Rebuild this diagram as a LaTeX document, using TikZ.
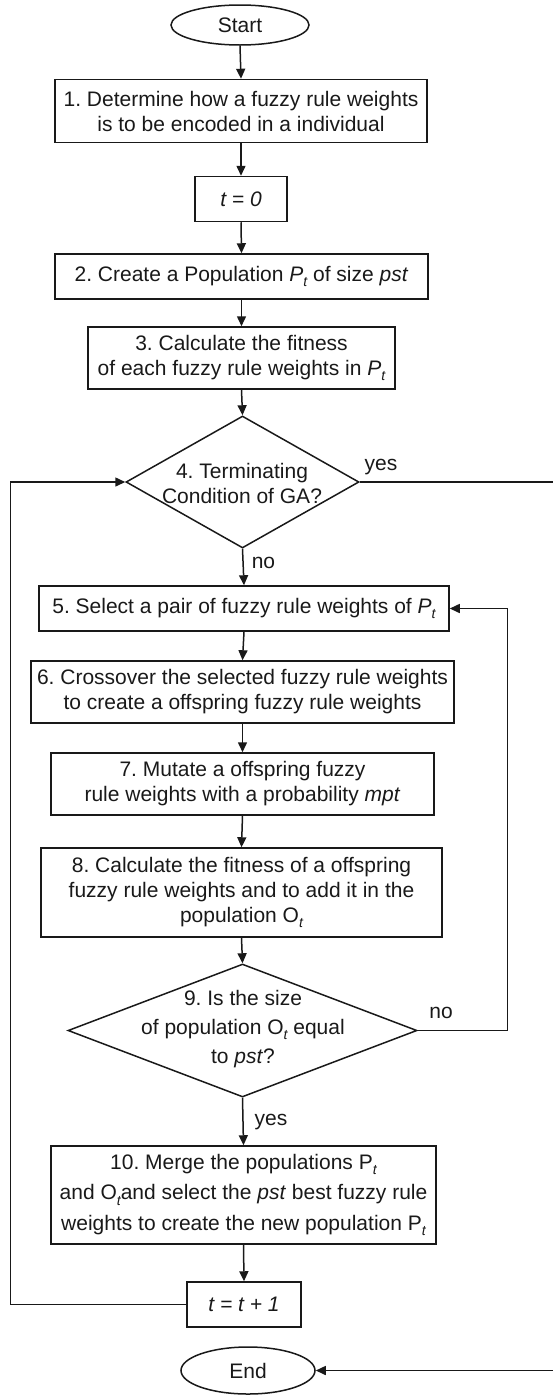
\documentclass[tikz,border=0pt]{standalone}
\usepackage{fontspec}
\setmainfont{Liberation Sans}
\usetikzlibrary{arrows.meta,shapes.geometric,calc}
\frenchspacing
\newcommand\subt{\raisebox{-5.5pt}{\fontsize{14}{14}\selectfont\itshape t}}
\begin{document}
\begin{tikzpicture}[x=1pt,y=1pt,
  every node/.style={font=\fontsize{21}{25}\selectfont\frenchspacing, text=black!90},
  base/.style={draw=black!90, line width=1.5pt, inner sep=0pt, align=center},
  procbox/.style={base, rectangle},
  termbox/.style={base, ellipse},
  decbox/.style={base, diamond},
  arr/.style={line width=1.5pt, draw=black!90, -{Triangle[length=10pt,width=9pt]}},
  lbl/.style={inner sep=0pt}
]
\useasboundingbox (0,0) rectangle (553,-1395);

\node[termbox, minimum width=138pt, minimum height=40pt] (start) at (240,-25) {Start};
\node[procbox, minimum width=372pt, minimum height=63pt] (b1) at (241,-111)
  {1. Determine how a fuzzy rule weights\\ is to be encoded in a individual};
\node[procbox, minimum width=92pt, minimum height=45pt] (t0) at (241,-199) {\textit{t = 0}};
\node[procbox, minimum width=373pt, minimum height=45pt] (b2) at (241.5,-276.5)
  {2. Create a Population \textit{P}\subt{} of size \textit{pst}};
\node[procbox, minimum width=307pt, minimum height=62pt] (b3) at (241.5,-358)
  {3. Calculate the fitness\\ of each fuzzy rule weights in \textit{P}\subt};
\node[decbox, minimum width=233pt, minimum height=132pt] (d4) at (242.5,-482) {};
\node[lbl, align=center] (d4t) at (242,-483) {4. Terminating\\ Condition of GA?};
\node[procbox, minimum width=410pt, minimum height=45pt] (b5) at (244,-608.5)
  {5. Select a pair of fuzzy rule weights of \textit{P}\subt};
\node[procbox, minimum width=423pt, minimum height=62pt] (b6) at (242.5,-692)
  {6. Crossover the selected fuzzy rule weights\\ to create a offspring fuzzy rule weights};
\node[procbox, minimum width=383pt, minimum height=62pt] (b7) at (242.5,-784)
  {7. Mutate a offspring fuzzy\\ rule weights with a probability \textit{mpt}};
\node[procbox, minimum width=401pt, minimum height=89pt] (b8) at (241.5,-892.5)
  {8. Calculate the fitness of a offspring\\ fuzzy rule weights and to add it in the\\ population O\subt};
\node[decbox, minimum width=349pt, minimum height=133pt] (d9) at (242.5,-1030.5) {};
\node[lbl, align=center, font=\fontsize{21}{29}\selectfont\frenchspacing] (d9t) at (243,-1029)
  {9. Is the size\\ of population O\subt{} equal\\ to \textit{pst}?};
\node[procbox, minimum width=385pt, minimum height=98pt, font=\fontsize{21}{30.5}\selectfont\frenchspacing] (b10) at (243.5,-1195)
  {10. Merge the populations P\subt\\ and O\subt and select the \textit{pst} best fuzzy rule\\ weights to create the new population P\subt};
\node[procbox, minimum width=114pt, minimum height=45pt] (t1) at (244,-1304.5) {\textit{t = t + 1}};
\node[termbox, minimum width=134pt, minimum height=47pt] (end) at (248,-1370.5) {End};

\coordinate (L) at (10.5,-1304.5);
\coordinate (R) at (557,-482);
\coordinate (R9) at (507.5,-1030.5);

\draw[arr] (start.south) -- (b1.north);
\draw[arr] (b1.south) -- (t0.north);
\draw[arr] (t0.south) -- (b2.north);
\draw[arr] (b2.south) -- (b3.north);
\draw[arr] (b3.south) -- (d4.north);
\draw[arr] (d4.south) -- (b5.north);
\draw[arr] (b5.south) -- (b6.north);
\draw[arr] (b6.south) -- (b7.north);
\draw[arr] (b7.south) -- (b8.north);
\draw[arr] (b8.south) -- (d9.north);
\draw[arr] (d9.south) -- (b10.north);
\draw[arr] (b10.south) -- (t1.north);
\draw[arr] (t1.west) -- (L) |- (d4.west);
\draw[arr] (d4.east) -- (R) |- (end.east);
\draw[arr] (d9.east) -- (R9) |- (b5.east);

\node[lbl] (yes4) at (381,-467) {yes};
\node[lbl] (no4) at (263.5,-563) {no};
\node[lbl] (no9) at (441,-1013) {no};
\node[lbl] (yes9) at (271,-1122) {yes};
\end{tikzpicture}
\end{document}
